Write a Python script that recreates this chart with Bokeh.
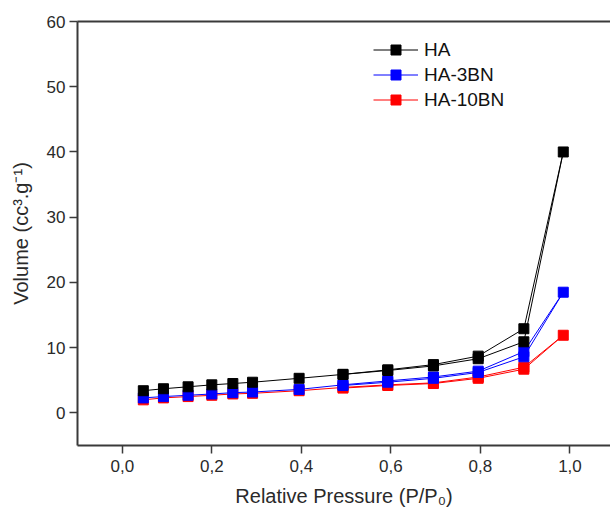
from bokeh.plotting import figure
from bokeh.models import (Range1d, FixedTicker, LinearAxis, Legend, LegendItem,
                          ColumnDataSource)
from bokeh.embed import file_html
from bokeh.resources import INLINE

# ---- data ----
p_ads = [0.047, 0.092, 0.147, 0.200, 0.247, 0.291, 0.395, 0.493, 0.593, 0.695, 0.795, 0.897, 0.985]
p_des = [0.897, 0.795, 0.695, 0.593, 0.493]

ha_ads = [3.4, 3.7, 4.0, 4.3, 4.5, 4.7, 5.3, 5.9, 6.6, 7.4, 8.7, 12.9, 40.0]
ha_des = [10.9, 8.3, 7.2, 6.5, 5.9]

ha3_ads = [2.3, 2.5, 2.7, 2.9, 3.1, 3.2, 3.6, 4.3, 4.9, 5.5, 6.4, 9.4, 18.5]
ha3_des = [8.6, 6.2, 5.3, 4.7, 4.2]

ha10_ads = [2.0, 2.3, 2.5, 2.7, 2.9, 3.0, 3.4, 3.9, 4.3, 4.6, 5.5, 7.0, 11.9]
ha10_des = [6.7, 5.3, 4.5, 4.2, 3.8]

series_names = ["HA", "HA-3BN", "HA-10BN"]
series_colors = ["#000000", "#0000ff", "#ff0000"]

x_ticks = [0.0, 0.2, 0.4, 0.6, 0.8, 1.0]
x_tick_labels = ["0,0", "0,2", "0,4", "0,6", "0,8", "1,0"]
y_ticks = [0, 10, 20, 30, 40, 50, 60]

FONT = "Liberation Sans"
AXIS_COL = "#3a3a3a"

p = figure(width=610, height=512, output_backend="svg", toolbar_location=None,
           x_range=Range1d(-0.1, 1.0905), y_range=Range1d(-5, 60),
           min_border_left=77, min_border_right=0, min_border_top=21,
           min_border_bottom=67)
p.outline_line_color = None
p.xgrid.visible = False
p.ygrid.visible = False
p.background_fill_color = "white"

# axes styling
for ax in (p.xaxis[0], p.yaxis[0]):
    ax.axis_line_color = AXIS_COL
    ax.axis_line_width = 2
    ax.major_tick_line_color = AXIS_COL
    ax.major_tick_line_width = 1.5
    ax.major_tick_out = 8
    ax.major_tick_in = 0
    ax.minor_tick_line_color = None
    ax.major_label_text_font = FONT
    ax.major_label_text_font_size = "17px"
    ax.major_label_text_color = "#2a2a2a"
    ax.axis_label_text_font = FONT
    ax.axis_label_text_font_size = "20px"
    ax.axis_label_text_font_style = "normal"
    ax.axis_label_text_color = "#2a2a2a"

p.xaxis.ticker = FixedTicker(ticks=x_ticks)
p.xaxis.major_label_overrides = {t: l for t, l in zip(x_ticks, x_tick_labels)}
p.xaxis.major_label_standoff = 6
p.xaxis.axis_label = "Relative Pressure (P/P\u2080)"
p.xaxis.axis_label_standoff = 10

p.yaxis.ticker = FixedTicker(ticks=y_ticks)
p.yaxis.major_label_standoff = 4
p.yaxis.axis_label = "Volume (cc\u00b3.g\u207b\u00b9)"
p.yaxis.axis_label_standoff = 12

top_axis = LinearAxis(ticker=FixedTicker(ticks=[]), axis_line_color=AXIS_COL,
                      axis_line_width=2, major_label_text_font_size="0px",
                      major_tick_line_color=None, minor_tick_line_color=None)
p.add_layout(top_axis, "above")

all_data = [
    (ha_ads + ha_des, series_colors[0]),
    (ha3_ads + ha3_des, series_colors[1]),
    (ha10_ads + ha10_des, series_colors[2]),
]
xs = p_ads + p_des

renderers = {}
for idx in [2, 1, 0]:
    ys, col = all_data[idx]
    src = ColumnDataSource(dict(x=xs, y=ys))
    ln = p.line("x", "y", source=src, line_color=col, line_width=1)
    mk = p.scatter("x", "y", source=src, marker="square", size=10,
                   fill_color=col, line_color=col)
    renderers[idx] = [ln, mk]

items = [LegendItem(label=series_names[i], renderers=renderers[i]) for i in range(3)]
legend = Legend(items=items, location=(296, 333), border_line_color=None,
                background_fill_alpha=0, padding=0, margin=0, spacing=0,
                glyph_width=45, glyph_height=25, label_height=25,
                label_standoff=6, label_text_font=FONT,
                label_text_font_size="19px", label_text_color="#111111")
p.add_layout(legend, "center")

open("out.html", "w").write(file_html(p, INLINE))
